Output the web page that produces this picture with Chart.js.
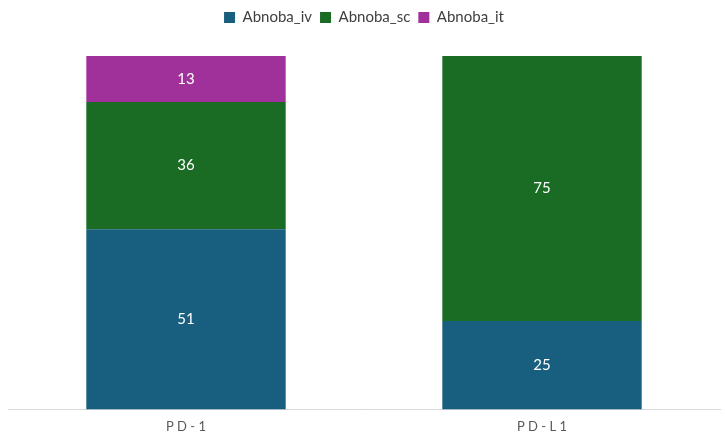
<!DOCTYPE html>
<html><head><meta charset="utf-8">
<script src="https://cdn.jsdelivr.net/npm/chart.js@4"></script>
<style>html,body{margin:0;padding:0;background:#fff}#w{width:725px;height:447px}</style>
</head><body><div id="w"><canvas id="c"></canvas></div>
<script>
const categories = ["P D - 1", "P D - L 1"];
const seriesNames = ["Abnoba_iv", "Abnoba_sc", "Abnoba_it"];
const ivValues = [51, 25];
const scValues = [36, 75];
const itValues = [13, 0];
const colors = ["#175E7F", "#1A6B24", "#A0309A"];

const labelPlugin = {
  id: 'vals',
  afterDatasetsDraw(chart) {
    const ctx = chart.ctx;
    ctx.save();
    ctx.fillStyle = '#fff';
    ctx.font = '15px Lato, "Open Sans", sans-serif';
    ctx.textAlign = 'center';
    ctx.textBaseline = 'middle';
    chart.data.datasets.forEach((ds, i) => {
      chart.getDatasetMeta(i).data.forEach((bar, j) => {
        const v = ds.data[j];
        if (!v) return;
        ctx.fillText(String(v), bar.x, (bar.y + bar.base) / 2);
      });
    });
    ctx.restore();
  }
};
const legendGap = {
  id: 'legendGap',
  beforeInit(chart) {
    const orig = chart.legend.fit;
    chart.legend.fit = function() { orig.bind(chart.legend)(); this.height += 21; };
  }
};

new Chart(document.getElementById('c'), {
  type: 'bar',
  data: {
    labels: categories,
    datasets: [
      {label: seriesNames[0], data: ivValues, backgroundColor: colors[0]},
      {label: seriesNames[1], data: scValues, backgroundColor: colors[1]},
      {label: seriesNames[2], data: itValues, backgroundColor: colors[2]}
    ]
  },
  options: {
    responsive: true, maintainAspectRatio: false, animation: false,
    layout: {padding: {left: 8, right: 5, top: 2, bottom: 2}},
    datasets: {bar: {categoryPercentage: 0.56, barPercentage: 1}},
    plugins: {
      legend: {position: 'top', labels: {boxWidth: 11, boxHeight: 11, padding: 8, color: '#404040', font: {size: 15, family: 'Lato, "Open Sans", sans-serif'}}},
      tooltip: {enabled: false}
    },
    scales: {
      x: {stacked: true, grid: {display: false, drawTicks: false}, border: {display: true, color: '#d9d9d9'},
          ticks: {color: '#595959', padding: 10, font: {size: 13, family: 'Lato, "Open Sans", sans-serif'}}},
      y: {stacked: true, min: 0, max: 100, display: false}
    }
  },
  plugins: [labelPlugin, legendGap]
});
</script></body></html>
